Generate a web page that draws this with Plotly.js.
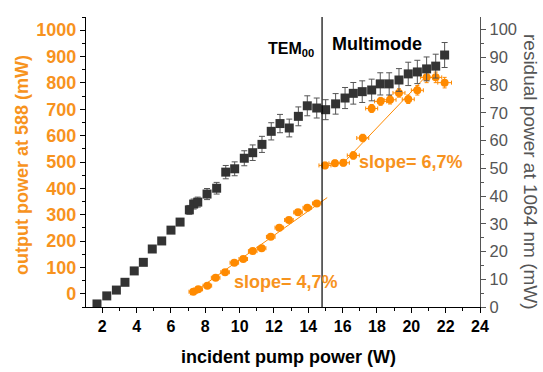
<!DOCTYPE html>
<html>
<head>
<meta charset="utf-8">
<script src="https://cdn.plot.ly/plotly-3.0.1.min.js"></script>
<style>html,body{margin:0;padding:0;background:#fff;}#chart{width:543px;height:372px;}</style>
</head>
<body>
<div id="chart"></div>
<script>
// Residual power at 1064 nm (right axis, mW)
const residualX = [1.69,2.26,2.82,3.32,3.86,4.39,4.91,5.46,6.0,6.53,7.07,7.32,7.56,8.1,8.66,9.19,9.71,10.27,10.76,11.3,11.84,12.35,12.89,13.42,13.94,14.49,15.01,15.59,16.14,16.62,17.14,17.69,18.19,18.71,19.28,19.82,20.35,20.89,21.42,21.94];
const residualY = [1.1,4.0,6.1,8.9,13.0,16.1,20.9,23.8,27.7,30.6,35.0,37.1,37.8,40.7,42.8,48.6,49.8,53.6,55.6,58.6,63.3,66.1,64.5,68.7,72.5,71.7,71.1,73.2,75.3,77.0,77.6,78.2,80.4,80.4,81.8,84.0,84.7,85.8,86.8,90.8];
const residualErr = [0.3,0.3,0.4,0.4,0.5,0.5,0.6,0.7,0.8,0.9,1.6,1.8,1.8,2.0,2.1,2.4,2.5,2.7,2.8,2.9,3.1,3.3,3.2,3.4,3.6,3.6,3.6,3.7,3.8,3.9,3.9,3.9,4.0,4.0,4.1,4.2,4.2,4.3,4.3,4.5];

// Output power at 588 nm (left axis, mW)
const outputX = [7.3,7.59,8.12,8.6,9.15,9.69,10.21,10.76,11.28,11.81,12.31,12.87,13.4,13.94,14.49,14.97,15.55,16.04,16.62,17.17,17.69,18.21,18.76,19.28,19.82,20.35,20.89,21.42,21.94];
const outputY = [8,17,31,61,82,118,132,162,173,216,251,280,309,326,343,487,495,497,525,591,703,730,736,762,738,772,821,821,801];
const outputErrX = [0.25,0.25,0.25,0.25,0.25,0.25,0.25,0.25,0.25,0.25,0.25,0.25,0.25,0.25,0.25,0.35,0.35,0.35,0.35,0.35,0.35,0.35,0.35,0.35,0.35,0.35,0.35,0.35,0.4];
const outputErrY = [5,5,5,5,5,5,5,6,6,6,6,6,6,6,6,12,12,12,14,14,15,15,16,16,16,18,20,20,20];

// Linear fits
const fitTEMX = [7.1, 15.1];
const fitTEMY = [-5, 365];
const fitMultiX = [15.95, 21.0];
const fitMultiY = [490, 835];

const modeBoundary = 14.8;
const xTicks = [2,4,6,8,10,12,14,16,18,20,22,24];

const ORANGE = '#ff8a00';
const ORANGE_TXT = '#f7931e';
const GRAY = '#555555';
const FONT = 'Arial, "Liberation Sans", sans-serif';

const traces = [
  {x: fitTEMX, y: fitTEMY, mode: 'lines', line: {color: ORANGE, width: 1}, hoverinfo: 'skip', showlegend: false},
  {x: fitMultiX, y: fitMultiY, mode: 'lines', line: {color: ORANGE, width: 1}, hoverinfo: 'skip', showlegend: false},
  {x: residualX, y: residualY, yaxis: 'y2', mode: 'markers', showlegend: false,
   marker: {symbol: 'square', size: 9, color: '#333333'},
   error_y: {type: 'data', array: residualErr, color: '#555555', thickness: 1, width: 3}},
  {x: outputX, y: outputY, mode: 'markers', showlegend: false,
   marker: {symbol: 'circle', size: 8, color: ORANGE},
   error_x: {type: 'data', array: outputErrX, color: ORANGE, thickness: 1, width: 2},
   error_y: {type: 'data', array: outputErrY, color: ORANGE, thickness: 1, width: 2}}
];

function px2paperX(px) { return (px - 86) / 394; }
function px2paperY(py) { return (307 - py) / 290; }

const layout = {
  width: 543, height: 372,
  margin: {l: 86, r: 63, t: 17, b: 65},
  paper_bgcolor: '#fff', plot_bgcolor: '#fff',
  font: {family: FONT},
  xaxis: {
    range: [1.05, 24], tickvals: xTicks, ticks: 'outside', ticklen: 5, tickcolor: '#000',
    minor: {dtick: 1, tick0: 0, ticks: 'outside', ticklen: 3, tickcolor: '#000'},
    showline: true, linecolor: '#000', linewidth: 1.2, showgrid: false, zeroline: false,
    tickfont: {size: 16, color: '#000', weight: 'bold', family: FONT}
  },
  xaxis2: {
    overlaying: 'x', side: 'top', range: [1.05, 24], tickvals: xTicks, ticks: 'inside', ticklen: 4, tickcolor: '#000',
    minor: {dtick: 1, tick0: 0, ticks: 'inside', ticklen: 2, tickcolor: '#000'},
    showline: true, linecolor: '#000', linewidth: 1.2, showgrid: false, zeroline: false, showticklabels: false
  },
  yaxis: {
    range: [-50, 1050], tick0: 0, dtick: 100, ticks: 'outside', ticklen: 5, tickcolor: '#000',
    minor: {dtick: 50, tick0: 0, ticks: 'outside', ticklen: 3, tickcolor: '#000'},
    showline: true, linecolor: '#000', linewidth: 1.2, showgrid: false, zeroline: false,
    tickfont: {size: 18, color: ORANGE_TXT, weight: 'bold', family: FONT}
  },
  yaxis2: {
    overlaying: 'y', side: 'right', range: [0, 104.5], tick0: 0, dtick: 10, ticks: 'outside', ticklen: 5, tickcolor: GRAY,
    minor: {dtick: 5, tick0: 0, ticks: 'outside', ticklen: 3, tickcolor: GRAY},
    showline: true, linecolor: GRAY, linewidth: 1.2, showgrid: false, zeroline: false,
    tickfont: {size: 16.5, color: GRAY, family: FONT}
  },
  shapes: [
    {type: 'line', xref: 'x', yref: 'paper', x0: modeBoundary, x1: modeBoundary, y0: 0, y1: 1, line: {color: '#000', width: 1.2}}
  ],
  annotations: [
    {xref: 'paper', yref: 'paper', x: px2paperX(288), y: px2paperY(357), xanchor: 'center', yanchor: 'middle', showarrow: false,
     text: 'incident pump power (W)', font: {size: 18, color: '#000', weight: 'bold', family: FONT}},
    {xref: 'paper', yref: 'paper', x: px2paperX(22), y: px2paperY(165), xanchor: 'center', yanchor: 'middle', textangle: -90, showarrow: false,
     text: 'output power at 588 (mW)', font: {size: 18, color: ORANGE_TXT, weight: 'bold', family: FONT}},
    {xref: 'paper', yref: 'paper', x: px2paperX(531), y: px2paperY(172), xanchor: 'center', yanchor: 'middle', textangle: 90, showarrow: false,
     text: 'residual power at 1064 nm (mW)', font: {size: 19, color: GRAY, family: FONT}},
    {xref: 'paper', yref: 'paper', x: px2paperX(291), y: px2paperY(49), xanchor: 'center', yanchor: 'middle', showarrow: false,
     text: 'TEM<sub>00</sub>', font: {size: 16, color: '#000', weight: 'bold', family: FONT}},
    {xref: 'paper', yref: 'paper', x: px2paperX(377), y: px2paperY(44), xanchor: 'center', yanchor: 'middle', showarrow: false,
     text: 'Multimode', font: {size: 18, color: '#000', weight: 'bold', family: FONT}},
    {xref: 'paper', yref: 'paper', x: px2paperX(286), y: px2paperY(282), xanchor: 'center', yanchor: 'middle', showarrow: false,
     text: 'slope= 4,7%', font: {size: 18, color: ORANGE_TXT, weight: 'bold', family: FONT}},
    {xref: 'paper', yref: 'paper', x: px2paperX(411), y: px2paperY(162), xanchor: 'center', yanchor: 'middle', showarrow: false,
     text: 'slope= 6,7%', font: {size: 18, color: ORANGE_TXT, weight: 'bold', family: FONT}}
  ]
};

Plotly.newPlot('chart', traces, layout, {displayModeBar: false, staticPlot: true});
</script>
</body>
</html>
